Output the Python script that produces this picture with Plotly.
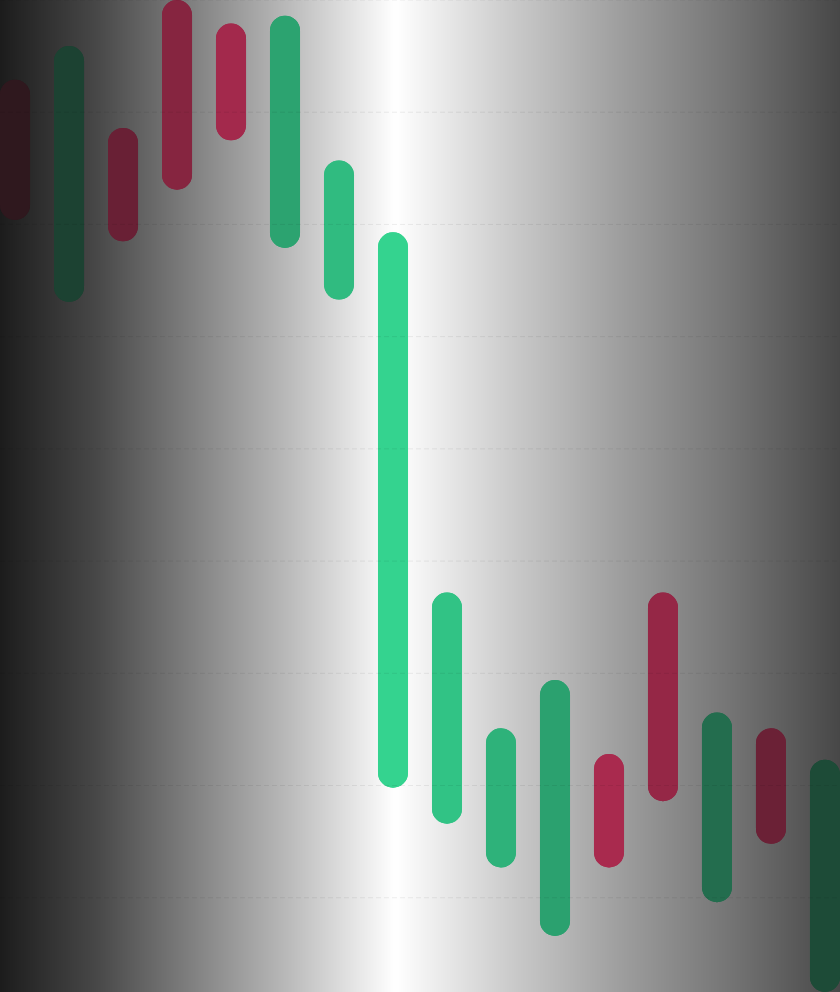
import numpy as np
import plotly.graph_objects as go

# candles, left to right (only the open/close bodies are drawn)
session = list(range(16))
open_ = [172.9, 153.1, 168.6, 180.0, 177.9, 157.9, 153.3, 109.8,
         106.6, 102.7, 96.6, 112.8, 127.2, 99.6, 115.1, 91.6]
close = [160.4, 175.9, 158.5, 163.1, 167.5, 178.6, 165.7, 159.3,
         127.2, 115.1, 119.4, 102.7, 108.6, 116.5, 104.8, 112.3]
grid_levels = [100, 110, 120, 130, 140, 150, 160, 170, 180]

up_rgb = (52, 212, 144)
down_rgb = (252, 54, 110)

x_range = [-0.278, 15.278]
y_range = [91.6, 180.0]

# light band in the middle, dark towards both sides (as fraction of the plot width)
stops = [0, 0.113, 0.226, 0.339, 0.47, 0.615, 0.744, 0.873, 1]
bg_grey = [28, 71, 127, 184, 255, 200, 156, 115, 71]
veil_stops = [0, 0.47, 1]
veil = [0.92, 0.0, 0.74]


def shaded(rgb, frac):
    a = np.interp(frac, veil_stops, veil)
    r, g, b = (round(c * (1 - a) + 20 * a) for c in rgb)
    return f"rgb({r},{g},{b})"


low = [min(o, c) for o, c in zip(open_, close)]
high = [max(o, c) for o, c in zip(open_, close)]
span = [h - l for h, l in zip(high, low)]
colors = []
for i, o, c in zip(session, open_, close):
    frac = (i - x_range[0]) / (x_range[1] - x_range[0])
    colors.append(shaded(up_rgb if c >= o else down_rgb, frac))

fig = go.Figure()

p = np.linspace(0, 1, 211)
grey = np.interp(p, stops, bg_grey) / 255
fig.add_trace(go.Heatmap(
    x=x_range[0] + p * (x_range[1] - x_range[0]), y=y_range,
    z=[grey, grey], zmin=0, zmax=1, zsmooth="best",
    colorscale=[[0, "rgb(0,0,0)"], [1, "rgb(255,255,255)"]],
    showscale=False, hoverinfo="skip"))

# two overlapping copies so both ends of each body get a round cap
fig.add_bar(x=session, base=low, y=span, width=0.556,
            marker=dict(color=colors, cornerradius=15, line_width=0),
            hoverinfo="skip")
fig.add_bar(x=session, base=high, y=[-s for s in span], width=0.556,
            marker=dict(color=colors, cornerradius=15, line_width=0),
            hoverinfo="skip")

for level in grid_levels:
    fig.add_hline(y=level, layer="above",
                  line=dict(color="rgba(0,0,0,0.07)", width=1, dash="5px,3px"))

fig.update_layout(
    width=840, height=992,
    margin=dict(l=0, r=0, t=0, b=0),
    barmode="overlay",
    showlegend=False,
    paper_bgcolor="white",
    plot_bgcolor="white",
    xaxis=dict(range=x_range, visible=False),
    yaxis=dict(range=y_range, visible=False),
)

fig.write_html("out.html", config={"displayModeBar": False},
               post_script="document.body.style.margin = '0';")
